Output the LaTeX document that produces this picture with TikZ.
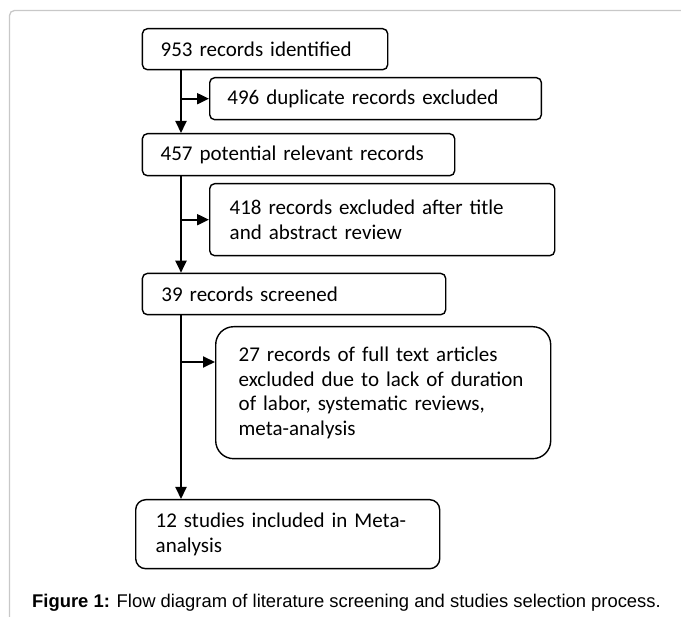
\documentclass[tikz,border=0pt]{standalone}
\usepackage{fontspec}
\setmainfont{Carlito}
\newfontfamily\capfont{Liberation Sans}
\usetikzlibrary{arrows.meta}
\definecolor{framec}{HTML}{C8C8C8}
\tikzset{
  flowbox/.style={draw=black, line width=1.4pt, rounded corners=5pt, anchor=north west,
    align=left, inner ysep=0pt, font=\fontsize{21}{24.5}\selectfont},
  bigbox/.style={flowbox, rounded corners=18pt},
  midbox/.style={flowbox, rounded corners=10pt},
  arr/.style={line width=2pt, -{Triangle[length=12pt,width=11pt]}},
  frameline/.style={draw=framec, line width=1.3pt, rounded corners=5pt},
}
\begin{document}
\begin{tikzpicture}[x=1pt,y=1pt]
\useasboundingbox (0,0) rectangle (681,-617);
\draw[frameline] (9.5,-617) -- (9.5,-10.5) -- (681,-10.5);
% boxes: inner xsep = text offset, text width = width - 2*offset, minimum height = height
\node[flowbox, inner xsep=18.3pt, text width=208.7pt, minimum height=41pt] (b1) at (141.7,-28) {953 records identified};
\node[flowbox, inner xsep=17.7pt, text width=296.3pt, minimum height=42pt] (b2) at (209,-77) {496 duplicate records excluded};
\node[flowbox, inner xsep=18.3pt, text width=275.7pt, minimum height=42pt] (b3) at (141.7,-133) {457 potential relevant records};
\node[flowbox, inner xsep=20pt, text width=305pt, minimum height=72pt] (b4) at (209,-183) {418 records excluded after title\\and abstract review};
\node[flowbox, inner xsep=19pt, text width=265.3pt, minimum height=41.3pt] (b5) at (141.7,-272.7) {39 records screened};
\node[bigbox, inner xsep=23pt, text width=289pt, minimum height=132pt] (b6) at (215,-326) {27 records of full text articles\\excluded due to lack of duration\\of labor, systematic reviews,\\meta-analysis};
\node[midbox, inner xsep=20pt, text width=264pt, minimum height=69pt] (b7) at (135,-499) {12 studies included in Meta-\\analysis};
% spine
\coordinate (sp) at (181,0);
\coordinate (br6) at (181,-362);
\draw[arr] (b1.south -| sp) -- (b3.north -| sp);
\draw[arr] (b2.west -| sp) -- (b2.west);
\draw[arr] (b3.south -| sp) -- (b5.north -| sp);
\draw[arr] (b4.west -| sp) -- (b4.west);
\draw[arr] (b5.south -| sp) -- (b7.north -| sp);
\draw[arr] (br6) -- (br6 -| b6.west);
% caption
\node[anchor=base west, inner sep=0pt, font=\capfont\fontsize{18.4}{22}\selectfont] (cap) at (32,-608) {\textbf{Figure 1:} Flow diagram of literature screening and studies selection process.};
\end{tikzpicture}
\end{document}
